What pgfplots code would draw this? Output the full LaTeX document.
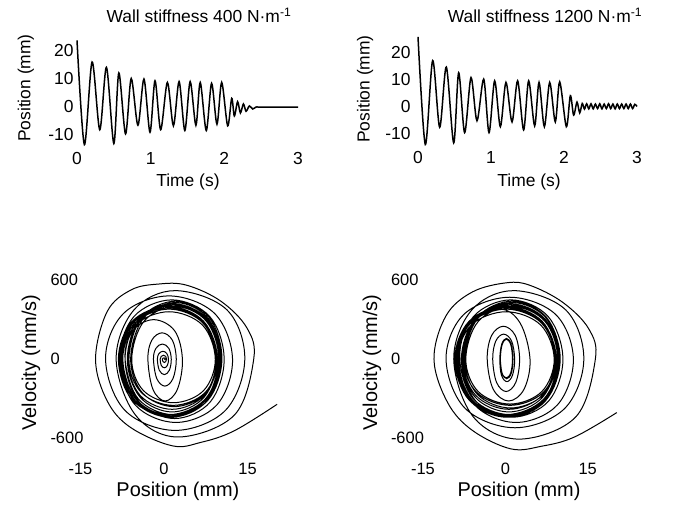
\documentclass[border=0pt]{standalone}
\usepackage{pgfplots}
\pgfplotsset{compat=1.18}
\usepackage{fontspec}
\setmainfont{Liberation Sans}
\pgfplotsset{
  myax/.style={scale only axis, axis line style={draw=none}, major tick length=0pt,
    tick style={draw=none}, clip=false, anchor=south west},
  topax/.style={myax, xmin=0, xmax=3, ymin=-15, ymax=25,
    xtick={0,1,2,3}, xticklabels={0,1,2,3},
    ytick={-10,0,10,20}, yticklabels={-10,0,10,20},
    ticklabel style={font=\fontsize{17.5}{17.5}\selectfont},
    label style={font=\fontsize{17.5}{17.5}\selectfont},
    xlabel={Time (s)}, ylabel={Position (mm)}},
  botax/.style={myax, xmin=-15, xmax=21, ymin=-700, ymax=650,
    xtick={-15,0,15}, xticklabels={-15,0,15},
    ytick={-600,0,600}, yticklabels={-600,0,600},
    ticklabel style={font=\fontsize{16.5}{16.5}\selectfont},
    xticklabel style={yshift=-8bp},
    label style={font=\fontsize{20}{20}\selectfont},
    xlabel={Position (mm)}, ylabel={Velocity (mm/s)}},
  tline/.style={black, line width=1.5bp, smooth},
  pline/.style={black, line width=1.0bp, smooth, tension=0.6},
}
\begin{document}
\begin{tikzpicture}
\path[use as bounding box] (0bp,0bp) rectangle (675bp,507bp);

% ---------- top left ----------
\begin{axis}[topax, at={(77bp,358.5bp)}, width=221bp, height=112bp,
  xlabel style={at={(axis description cs:0.502,-0.299)}, anchor=center},
  ylabel style={at={(axis description cs:-0.231,0.540)}, anchor=center}]
\addplot[tline] coordinates {
(0.000,23.6) (0.100,-13.6) (0.205,15.9) (0.309,-8.3) (0.400,14.0) (0.500,-13.2)
(0.568,12.0) (0.659,-9.8) (0.736,10.0) (0.827,-6.7) (0.909,9.8) (0.991,-9.2)
(1.059,9.2) (1.136,-8.3) (1.227,8.6) (1.309,-6.9) (1.386,8.9) (1.464,-8.6)
(1.536,8.9) (1.614,-6.7) (1.673,8.6) (1.755,-8.6) (1.827,8.3) (1.900,-6.3)
(1.964,8.6) (2.045,-6.9) (2.100,2.9) (2.136,-3.4) (2.180,1.7) (2.218,-2.3)
(2.259,0.9) (2.295,-1.7) (2.340,0.2) (2.386,-0.9) (2.430,-0.2) (2.500,-0.2)
(3.000,-0.2)};
\end{axis}

% ---------- top right ----------
\begin{axis}[topax, at={(418bp,359.5bp)}, width=219bp, height=108bp,
  yticklabel style={xshift=-4bp},
  xlabel style={at={(axis description cs:0.507,-0.319)}, anchor=center},
  ylabel style={at={(axis description cs:-0.242,0.542)}, anchor=center}]
\addplot[tline] coordinates {
(0.000,26.0) (0.100,-13.9) (0.201,17.2) (0.297,-7.5) (0.388,14.8) (0.489,-13.3)
(0.557,12.7) (0.639,-9.5) (0.726,10.9) (0.808,-5.1) (0.900,10.3) (0.973,-9.5)
(1.050,9.7) (1.128,-7.3) (1.205,9.1) (1.288,-5.5) (1.365,9.7) (1.447,-8.5)
(1.516,9.7) (1.598,-7.0) (1.658,9.1) (1.731,-7.3) (1.804,9.1) (1.881,-5.5)
(1.941,9.3) (2.032,-7.3) (2.087,4.2) (2.132,-3.0) (2.178,1.8) (2.215,-2.2)
(2.25,1.3) (2.28,-0.8) (2.31,1.2) (2.34,-0.7) (2.37,1.2) (2.40,-0.7)
(2.43,1.1) (2.46,-0.6) (2.49,1.2) (2.52,-0.7) (2.55,1.1) (2.58,-0.6)
(2.61,1.2) (2.64,-0.6) (2.67,1.1) (2.70,-0.7) (2.73,1.1) (2.76,-0.6)
(2.79,1.1) (2.82,-0.6) (2.85,1.1) (2.88,-0.6) (2.91,1.1) (2.94,-0.6)
(2.97,1.0) (3.00,0.2)};
\end{axis}

% ---------- bottom left ----------
\begin{axis}[botax, at={(80.5bp,55.5bp)}, width=200.5bp, height=178bp,
  yticklabel style={anchor=west, xshift=-33.5bp},
  xlabel style={at={(axis description cs:0.486,-0.226)}, anchor=center},
  ylabel style={at={(axis description cs:-0.247,0.5)}, anchor=center}]
\addplot[pline] coordinates {
(20.3,-342) (12.6,-543) (6.6,-631) (1.5,-657) (-6.0,-518) (-10.2,-317) (-12.3,0)
(-10.2,362) (-5.9,526) (-1.0,570) (4.0,562) (10.2,440) (14.9,236) (16.1,0)
(12.6,-425) (2.5,-590) (-5.1,-425) (-8.6,0)
(-5.4,374) (2.0,520) (11.3,374) (14.5,0)
(11.0,-389) (2.0,-540) (-7.0,-389) (-10.5,0)
(-7.3,346) (0.9,480) (9.1,346) (12.3,0)
(9.5,-346) (2.15,-480) (-5.2,-346) (-8.0,0)
(-5.4,324) (1.4,450) (8.2,324) (10.8,0)
(8.3,-324) (1.9,-450) (-4.5,-324) (-7.0,0)
(-4.6,302) (1.5,420) (7.6,302) (10.0,0)
(7.5,-310) (0.9,-430) (-5.7,-310) (-8.2,0)
(-5.7,288) (0.7,400) (7.1,288) (9.6,0)
(7.4,-259) (1.8,-360) (-3.8,-259) (-6.0,0)
(-3.7,310) (2.1,430) (7.9,310) (10.2,0)
(7.7,-317) (1.3,-440) (-5.1,-317) (-7.6,0)
(-5.2,274) (0.9,380) (7.0,274) (9.4,0)
(7.2,-274) (1.45,-380) (-4.3,-274) (-6.5,0)
(-4.2,295) (1.7,410) (7.6,295) (9.9,0)
(7.4,-302) (0.95,-420) (-5.5,-302) (-8.0,0)
(-5.5,288) (0.8,400) (7.1,288) (9.6,0)
(7.4,-252) (1.65,-350) (-4.1,-252) (-6.3,0)
(-4.0,317) (2.05,440) (8.1,317) (10.4,0)
(7.9,-310) (1.5,-430) (-4.9,-310) (-7.4,0)
(-5.1,259) (0.9,360) (6.9,259) (9.2,0)
(7.1,-238) (1.7,-330) (-3.7,-238) (-5.8,0)
(-3.6,288) (2.0,400) (7.6,288) (9.8,0)
(7.3,-317) (1.0,-440) (-5.3,-317) (-7.8,0)
(-5.4,281) (0.85,390) (7.1,281) (9.5,0)
(7.2,-288) (1.45,-400) (-4.3,-288) (-6.6,0)
(-4.3,302) (1.75,420) (7.8,302) (10.1,0)
(7.7,-302) (1.55,-420) (-4.6,-302) (-7.0,0)
(-5.6,216) (-1.85,300) (1.9,216) (3.3,0)
(2.4,-228) (0.2,-317) (-2.0,-228) (-2.9,0)
(-2.2,144) (-0.35,200) (1.5,144) (2.2,0)
(1.6,-147) (0.15,-204) (-1.3,-147) (-1.9,0)
(-1.45,83) (-0.3,115) (0.85,83) (1.3,0)
(0.95,-84) (0.05,-117) (-0.85,-84) (-1.2,0)
(-0.9,43) (-0.2,60) (0.5,43) (0.8,0)
(0.6,-47) (0.05,-65) (-0.5,-47) (-0.7,0)
(-0.5,22) (-0.1,30) (0.3,22) (0.45,0)
(0.3,-18) (0.07,-25) (-0.2,-18) (-0.3,0)
(-0.2,7) (0,10) (0.15,7) (0.2,0) (0.05,-3)};
\end{axis}

% ---------- bottom right ----------
\begin{axis}[botax, at={(423bp,55.5bp)}, width=197.6bp, height=178bp,
  yticklabel style={anchor=west, xshift=-35.5bp},
  xlabel style={at={(axis description cs:0.486,-0.226)}, anchor=center},
  ylabel style={at={(axis description cs:-0.258,0.5)}, anchor=center}]
\addplot[pline] coordinates {
(20.3,-405) (12.6,-590) (6.6,-660) (1.0,-680) (-6.0,-540) (-10.5,-330) (-13.0,0)
(-10.8,330) (-6.0,510) (0.3,580) (4.5,560) (10.5,430) (15.2,230) (16.4,0)
(12.8,-439) (2.5,-606) (-5.8,-439) (-9.4,0)
(-6.1,374) (1.5,520) (11.0,374) (14.3,0)
(10.8,-374) (1.75,-520) (-7.3,-374) (-10.8,0)
(-7.6,338) (0.8,470) (9.2,338) (12.4,0)
(9.5,-346) (1.95,-480) (-5.6,-346) (-8.5,0)
(-5.8,324) (1.0,450) (7.8,324) (10.5,0)
(7.9,-317) (1.25,-440) (-5.4,-317) (-8.0,0)
(-5.5,302) (0.85,420) (7.2,302) (9.7,0)
(7.1,-310) (0.25,-430) (-6.6,-310) (-9.2,0)
(-6.6,288) (0.05,400) (6.7,288) (9.3,0)
(7.0,-266) (0.95,-370) (-5.1,-266) (-7.4,0)
(-5.0,310) (1.25,430) (7.5,310) (9.9,0)
(7.3,-317) (0.55,-440) (-6.2,-317) (-8.8,0)
(-6.3,274) (0.15,380) (6.6,274) (9.1,0)
(6.7,-274) (0.65,-380) (-5.4,-274) (-7.8,0)
(-5.4,295) (0.9,410) (7.2,295) (9.6,0)
(7.0,-302) (0.2,-420) (-6.6,-302) (-9.2,0)
(-6.6,284) (0.05,395) (6.7,284) (9.3,0)
(6.9,-252) (0.85,-350) (-5.2,-252) (-7.6,0)
(-5.1,317) (1.2,440) (7.5,317) (10.0,0)
(7.4,-310) (0.7,-430) (-6.0,-310) (-8.6,0)
(-6.2,259) (0.15,360) (6.45,259) (8.9,0)
(6.65,-245) (0.85,-340) (-4.95,-245) (-7.2,0)
(-4.9,288) (1.15,400) (7.2,288) (9.5,0)
(6.9,-317) (0.25,-440) (-6.4,-317) (-9.0,0)
(-6.5,281) (0.1,390) (6.65,281) (9.2,0)
(6.8,-288) (0.65,-400) (-5.5,-288) (-7.9,0)
(-5.4,302) (0.95,420) (7.3,302) (9.8,0)
(7.3,-302) (0.75,-420) (-5.8,-302) (-8.3,0)
(-6.5,274) (-1.0,380) (2.7,274) (4.5,0)
(3.4,-228) (0.6,-317) (-2.2,-228) (-3.3,0)
(-2.5,180) (-0.35,250) (1.8,180) (2.6,0)
(1.9,-176) (0.15,-245) (-1.6,-176) (-2.3,0)
(-1.75,137) (-0.3,190) (1.15,137) (1.7,0)
(1.3,-122) (0.3,-170) (-0.7,-122) (-1.0,0)
(-0.66,114) (0.2,158) (1.06,114) (1.4,0)
(1.08,-107) (0.25,-148) (-0.58,-107) (-0.9,0)
(-0.59,109) (0.2,152) (0.99,109) (1.3,0)
(0.99,-102) (0.175,-142) (-0.64,-102) (-0.95,0)
(-0.64,112) (0.2,156) (1.04,112) (1.38,0)
(1.06,-105) (0.24,-146) (-0.6,-105) (-0.92,0)
(-0.6,110) (0.2,153) (1.0,110) (1.32,0)
(1.0,-103) (0.18,-143) (-0.63,-103) (-0.96,0)
(-0.65,113) (0.2,157) (1.05,113) (1.39,0)
(1.07,-106) (0.25,-147) (-0.59,-106) (-0.91,0)
(-0.6,110) (0.2,154) (1.0,110) (1.33,0)
(1.0,-104) (0.2,-144) (-0.62,-104) (-0.94,0)
(-0.63,111) (0.2,155) (1.03,111) (1.36,0)
(1.05,-105) (0.23,-146) (-0.6,-105) (-0.92,0)};
\end{axis}

\node[anchor=base, font=\fontsize{17.5}{17.5}\selectfont] at (199bp,484.3bp) {Wall stiffness 400 N·m\textsuperscript{-1}};
\node[anchor=base, font=\fontsize{17.5}{17.5}\selectfont] at (545bp,484.3bp) {Wall stiffness 1200 N·m\textsuperscript{-1}};
\end{tikzpicture}
\end{document}
